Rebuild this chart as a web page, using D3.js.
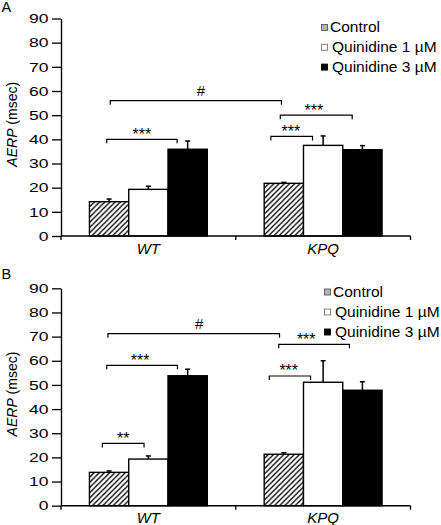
<!DOCTYPE html>
<html><head><meta charset="utf-8">
<script src="https://cdn.jsdelivr.net/npm/d3@7"></script>
<style>
html,body{margin:0;padding:0;background:#fff;}
svg{display:block;font-family:"Liberation Sans",Arial,sans-serif;}
</style></head>
<body>
<svg id="chart" width="441" height="525"></svg>
<script>
// ---------- data ----------
const categories = ["WT", "KPQ"];
const series = ["Control", "Quinidine 1 µM", "Quinidine 3 µM"];
const yTicks = [0, 10, 20, 30, 40, 50, 60, 70, 80, 90];

// Panel A
const meanA_WT  = [14.2, 19.3, 35.9];
const meanA_KPQ = [21.8, 37.5, 35.7];
const errA_WT   = [1.1, 1.3, 3.4];
const errA_KPQ  = [0.4, 3.9, 1.7];
// Panel B
const meanB_WT  = [13.8, 19.3, 53.8];
const meanB_KPQ = [21.3, 51.1, 47.8];
const errB_WT   = [0.6, 1.3, 2.7];
const errB_KPQ  = [0.6, 8.9, 3.5];

// significance brackets: [catFrom, kFrom, catTo, kTo, level, label, labelShift(k)]
const sigA = [
  ["WT", 0.53, "KPQ", 0.44, 56.0, "#", 0.13],
  ["WT", 0.44, "WT", 2.23, 40.0, "***", 0],
  ["KPQ", 0.41, "KPQ", 2.24, 50.0, "***", -0.06],
  ["KPQ", 0.17, "KPQ", 1.23, 41.2, "***", -0.02]
];
const sigB = [
  ["WT", 0.47, "KPQ", 0.39, 71.2, "#", 0.14],
  ["WT", 0.44, "WT", 2.24, 58.1, "***", -0.05],
  ["WT", 0.33, "WT", 1.39, 25.8, "**", 0],
  ["KPQ", 0.37, "KPQ", 2.17, 66.8, "***", -0.2],
  ["KPQ", 0.13, "KPQ", 1.18, 53.7, "***", -0.03]
];

// ---------- drawing ----------
const svg = d3.select("#chart");
const defs = svg.append("defs");
// hatch for bars
const hp = defs.append("pattern").attr("id","hatch").attr("patternUnits","userSpaceOnUse")
  .attr("width",5.2).attr("height",5.2);
hp.append("rect").attr("width",5.2).attr("height",5.2).attr("fill","#fff");
hp.append("path").attr("d","M-1,6.2 L6.2,-1 M-1,1 L1,-1 M4.2,6.2 L6.2,4.2")
  .attr("stroke","#000").attr("stroke-width",1.35);
// fine hatch for legend
const hl = defs.append("pattern").attr("id","hatchS").attr("patternUnits","userSpaceOnUse")
  .attr("width",2).attr("height",2);
hl.append("rect").attr("width",2).attr("height",2).attr("fill","#fff");
hl.append("path").attr("d","M-0.5,2.5 L2.5,-0.5").attr("stroke","#444").attr("stroke-width",0.8);

const fills = ["url(#hatch)", "#fff", "#000"];
const legendFills = ["url(#hatchS)", "#fff", "#000"];
const legendStroke = ["#555", "#777", "#000"];

function panel(cfg) {
  const g = svg.append("g");
  const x = d3.scaleBand().domain(categories).range([61, 410.5])
    .paddingInner(0.3255).paddingOuter(0.1628);
  const xs = d3.scaleBand().domain(d3.range(series.length)).range([0, x.bandwidth()]);
  const y = d3.scaleLinear().domain([0, 90]).range([cfg.y0, cfg.y90]);
  const means = {WT: cfg.mWT, KPQ: cfg.mKPQ};
  const errs = {WT: cfg.eWT, KPQ: cfg.eKPQ};
  const rows = [];
  categories.forEach(c => series.forEach((s, i) => rows.push({c, i, v: means[c][i], e: errs[c][i]})));

  // bars
  g.selectAll("rect.bar").data(rows).join("rect").attr("class","bar")
    .attr("x", d => x(d.c) + xs(d.i))
    .attr("width", xs.bandwidth())
    .attr("y", d => y(d.v))
    .attr("height", d => y(0) - y(d.v))
    .attr("fill", d => fills[d.i])
    .attr("stroke", "#000").attr("stroke-width", 1.4);

  // error bars
  const eb = g.selectAll("g.err").data(rows).join("g").attr("class","err");
  eb.append("line")
    .attr("x1", d => x(d.c) + xs(d.i) + xs.bandwidth()/2)
    .attr("x2", d => x(d.c) + xs(d.i) + xs.bandwidth()/2)
    .attr("y1", d => y(d.v)).attr("y2", d => y(d.v + d.e))
    .attr("stroke","#000").attr("stroke-width",1.5);
  eb.append("line")
    .attr("x1", d => x(d.c) + xs(d.i) + xs.bandwidth()/2 - 2.5)
    .attr("x2", d => x(d.c) + xs(d.i) + xs.bandwidth()/2 + 2.5)
    .attr("y1", d => y(d.v + d.e)).attr("y2", d => y(d.v + d.e))
    .attr("stroke","#000").attr("stroke-width",1.5);

  // y axis
  const ya = d3.axisLeft(y).tickValues(yTicks).tickSize(9).tickPadding(3).tickSizeOuter(0);
  const yg = g.append("g").attr("transform","translate(61,0)").call(ya);
  yg.select(".domain").attr("stroke","#000").attr("stroke-width",1.4);
  yg.selectAll(".tick line").attr("stroke","#000").attr("stroke-width",1.3);
  const sx = 1.35;
  yg.selectAll(".tick text").attr("font-size",13).attr("fill","#000")
    .attr("font-family",'"Liberation Sans",Arial,sans-serif')
    .attr("x", -12.5/sx).attr("transform", `scale(${sx},1)`);

  // x axis
  const xr = x.range();
  const xg = g.append("g");
  xg.append("line").attr("x1", xr[0]).attr("x2", xr[1]).attr("y1", y(0)).attr("y2", y(0))
    .attr("stroke","#000").attr("stroke-width",1.4);
  const bounds = [xr[0], (xr[0]+xr[1])/2, xr[1]];
  xg.selectAll("line.tk").data(bounds).join("line").attr("class","tk")
    .attr("x1", d => d).attr("x2", d => d).attr("y1", y(0)).attr("y2", y(0)+4)
    .attr("stroke","#000").attr("stroke-width",1.3);
  xg.selectAll("text.cat").data(categories).join("text").attr("class","cat")
    .attr("x", d => x(d) + x.bandwidth()/2).attr("y", y(0) + 17.5)
    .attr("text-anchor","middle").attr("font-size",15).attr("font-style","italic")
    .text(d => d);

  // y axis title
  const yt = g.append("text")
    .attr("transform", `translate(17,${(y(0)+y(90))/2 - 3}) rotate(-90)`)
    .attr("text-anchor","middle").attr("font-size",14);
  yt.append("tspan").attr("font-style","italic").text("AERP");
  yt.append("tspan").text(" (msec)");

  // panel letter
  g.append("text").attr("x", 1.5).attr("y", cfg.letterY).attr("font-size",14.5).text(cfg.letter);

  // significance brackets
  const kx = (c, k) => x(c) + k * xs.bandwidth();
  const sg = g.selectAll("g.sig").data(cfg.sig).join("g").attr("class","sig");
  sg.append("path")
    .attr("d", d => {
      const x1 = kx(d[0], d[1]), x2 = kx(d[2], d[3]), yy = y(d[4]);
      return `M${x1},${yy+4}V${yy}H${x2}V${yy+4}`;
    })
    .attr("fill","none").attr("stroke","#000").attr("stroke-width",1.2);
  sg.append("text")
    .attr("x", d => (kx(d[0], d[1]) + kx(d[2], d[3]))/2 + d[6] * xs.bandwidth())
    .attr("y", d => d[5] === "#" ? y(d[4]) - 4.5 : y(d[4]) + 0.5)
    .attr("text-anchor","middle")
    .attr("font-size", d => d[5] === "#" ? 15 : 16)
    .text(d => d[5]);

  // legend
  const lg = g.append("g");
  const li = lg.selectAll("g").data(series).join("g")
    .attr("transform", (d, i) => `translate(${cfg.legX},${cfg.legY + i*cfg.legDy})`);
  li.append("rect").attr("x", 0).attr("y", -7.5).attr("width", 6).attr("height", 6)
    .attr("fill", (d, i) => legendFills[i]).attr("stroke", (d, i) => legendStroke[i]).attr("stroke-width", 0.9);
  li.append("text").attr("x", (d, i) => i === 0 ? 8.5 : 10.5).attr("y", 0)
    .attr("font-size", 15.5).text(d => d);
}

panel({y0: 236, y90: 18.5, mWT: meanA_WT, mKPQ: meanA_KPQ, eWT: errA_WT, eKPQ: errA_KPQ,
  sig: sigA, letter: "A", letterY: 12, legX: 321.5, legY: 32, legDy: 19.8});
panel({y0: 505.7, y90: 288.3, mWT: meanB_WT, mKPQ: meanB_KPQ, eWT: errB_WT, eKPQ: errB_KPQ,
  sig: sigB, letter: "B", letterY: 278.5, legX: 324.5, legY: 296.5, legDy: 20});
</script>
</body></html>
